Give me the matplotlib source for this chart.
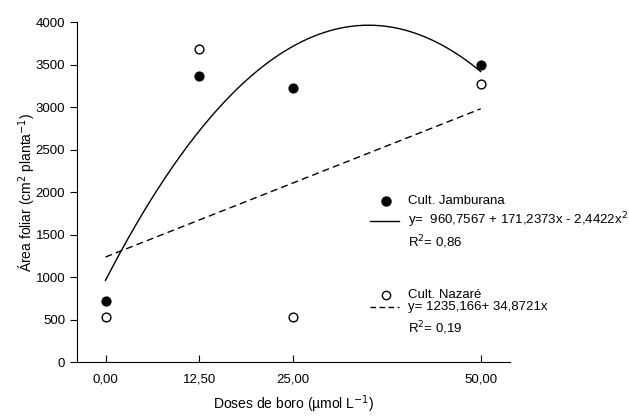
import numpy as np
import matplotlib.pyplot as plt
from matplotlib.lines import Line2D

plt.rcParams['font.family'] = ['Liberation Sans', 'DejaVu Sans']

doses = [0, 12.5, 25, 50]
jamburana = [718, 3365, 3225, 3495]
nazare = [530, 3680, 525, 3270]
tick_labels = ['0,00', '12,50', '25,00', '50,00']

# fitted models
quad = [960.7567, 171.2373, -2.4422]
lin = [1235.166, 34.8721]

fig = plt.figure(figsize=(6.29, 4.16), dpi=100)
ax = fig.add_axes([0.1224, 0.1298, 0.6884, 0.8173])

xs = np.linspace(0, 50, 200)
ax.plot(xs, quad[0] + quad[1] * xs + quad[2] * xs ** 2, color='black', lw=1)
ax.plot(xs, lin[0] + lin[1] * xs, color='black', lw=1, ls=(0, (5, 3)))
ax.scatter(doses, jamburana, s=40, color='black', zorder=3)
ax.scatter(doses, nazare, s=40, facecolor='white', edgecolor='black', lw=1, zorder=3)

ax.set_xlim(-3.8, 53.9)
ax.set_ylim(0, 4000)
ax.set_xticks(doses)
ax.set_xticklabels(tick_labels)
ax.set_yticks(range(0, 4001, 500))
ax.spines['top'].set_visible(False)
ax.spines['right'].set_visible(False)
ax.tick_params(axis='x', direction='in', length=5, labelsize=9.5, pad=8)
ax.tick_params(axis='y', direction='out', length=5, labelsize=9.5)
ax.set_xlabel('Doses de boro (µmol L$^{-1}$)', fontsize=10, labelpad=6)
ax.set_ylabel('Área foliar (cm$^{2}$ planta$^{-1}$)', fontsize=10, labelpad=-2)

# legend built by hand
tx = 0.764
kw = dict(transform=ax.transAxes, fontsize=9.5, va='center', clip_on=False)
ax.add_line(Line2D([0.714], [0.4735], marker='o', ms=6.5, color='black',
                   transform=ax.transAxes, clip_on=False))
ax.text(tx, 0.4735, 'Cult. Jamburana', **kw)
ax.add_line(Line2D([0.677, 0.744], [0.416, 0.416], color='black', lw=1,
                   transform=ax.transAxes, clip_on=False))
ax.text(tx, 0.416, 'y=  960,7567 + 171,2373x - 2,4422x$^2$', **kw)
ax.text(tx, 0.352, 'R$^2$= 0,86', **kw)

ax.add_line(Line2D([0.714], [0.197], marker='o', ms=6, mfc='white', mec='black',
                   transform=ax.transAxes, clip_on=False))
ax.text(tx, 0.197, 'Cult. Nazaré', **kw)
ax.add_line(Line2D([0.677, 0.744], [0.163, 0.163], color='black', lw=1,
                   ls=(0, (4, 2.5)), transform=ax.transAxes, clip_on=False))
ax.text(tx, 0.163, 'y= 1235,166+ 34,8721x', **kw)
ax.text(tx, 0.098, 'R$^2$= 0,19', **kw)

fig.savefig('out.png', dpi=100)
